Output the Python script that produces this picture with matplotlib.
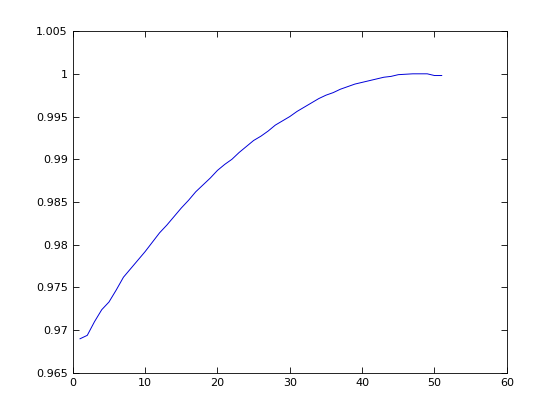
import numpy as np
import matplotlib
matplotlib.use('Agg')
import matplotlib.pyplot as plt
from matplotlib.ticker import FuncFormatter

# curve values, x = 1..51
x = np.arange(1, 52)
y = [0.9690, 0.9694, 0.9710, 0.9724, 0.9733, 0.9747, 0.9762, 0.9772, 0.9782, 0.9792,
     0.9803, 0.9814, 0.9823, 0.9833, 0.9843, 0.9852, 0.9862, 0.9870, 0.9878, 0.9887,
     0.9894, 0.9900, 0.9908, 0.9915, 0.9922, 0.9927, 0.9933, 0.9940, 0.9945, 0.9950,
     0.9956, 0.9961, 0.9966, 0.9971, 0.9975, 0.9978, 0.9982, 0.9985, 0.9988, 0.9990,
     0.9992, 0.9994, 0.9996, 0.9997, 0.9999, 0.99995, 1.0000, 1.0000, 1.0000, 0.9998,
     0.9998]

xticks = [0, 10, 20, 30, 40, 50, 60]
yticks = [0.965, 0.97, 0.975, 0.98, 0.985, 0.99, 0.995, 1.0, 1.005]

fig = plt.figure(figsize=(5.6, 4.2), dpi=100)
ax = fig.add_axes([0.13, 0.112, 0.775, 0.814])
ax.plot(x, y, color=(0, 0, 0.85), linewidth=0.7)

ax.set_xlim(0, 60)
ax.set_ylim(0.965, 1.005)
ax.set_xticks(xticks)
ax.set_yticks(yticks)
ax.yaxis.set_major_formatter(FuncFormatter(lambda v, p: '%g' % round(v, 4)))
ax.tick_params(direction='in', top=True, right=True, labelsize=8, length=4, width=0.6)
for s in ax.spines.values():
    s.set_linewidth(0.6)

fig.savefig('out.png', dpi=100)
